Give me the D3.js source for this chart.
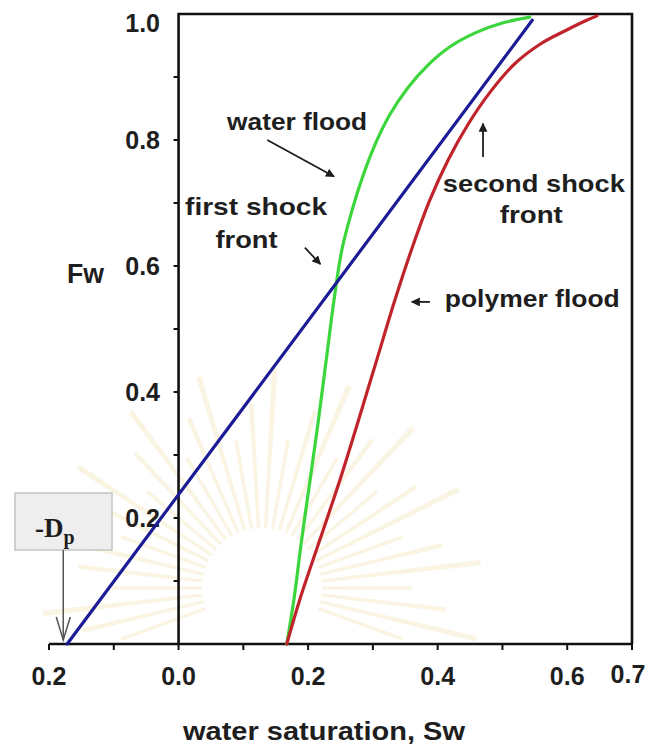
<!DOCTYPE html>
<html>
<head>
<meta charset="utf-8">
<script src="https://cdn.jsdelivr.net/npm/d3@7/dist/d3.min.js"></script>
<style>
  html, body { margin: 0; padding: 0; background: #ffffff; }
  svg { display: block; }
  text { font-family: "Liberation Sans", Arial, sans-serif; font-weight: bold; fill: #1e1e1e; }
</style>
</head>
<body>
<svg id="chart" width="654" height="745"></svg>
<script>
// Fractional flow curves (Sw, Fw)
const waterFloodSw = [0.167, 0.178, 0.190, 0.203, 0.216, 0.228, 0.240, 0.252, 0.268, 0.285, 0.303, 0.326, 0.354, 0.385, 0.419, 0.458, 0.501, 0.542];
const waterFloodFw = [0.000, 0.070, 0.165, 0.260, 0.356, 0.451, 0.546, 0.625, 0.689, 0.744, 0.792, 0.840, 0.883, 0.919, 0.948, 0.970, 0.986, 0.995];

const polymerFloodSw = [0.167, 0.187, 0.218, 0.249, 0.278, 0.306, 0.334, 0.362, 0.388, 0.416, 0.447, 0.481, 0.519, 0.558, 0.600, 0.630, 0.646];
const polymerFloodFw = [0.000, 0.070, 0.165, 0.260, 0.356, 0.451, 0.546, 0.633, 0.705, 0.768, 0.825, 0.876, 0.921, 0.952, 0.975, 0.990, 0.997];

// Tangent line drawn from -Dp on the Sw axis
const tangentSw = [-0.172, 0.546];
const tangentFw = [0.000, 0.990];
const dpSw = -0.178;

// Axis ticks and labels
const xTickValues = [-0.2, -0.1, 0.0, 0.1, 0.2, 0.3, 0.4, 0.5, 0.6, 0.7];
const xLabelValues = [-0.2, 0.0, 0.2, 0.4, 0.6, 0.7];
const xLabelTexts = ["0.2", "0.0", "0.2", "0.4", "0.6", "0.7"];
const yTickValues = [0.1, 0.2, 0.3, 0.4, 0.5, 0.6, 0.7, 0.8, 0.9];
const yLabelValues = [1.0, 0.8, 0.6, 0.4, 0.2];
const yLabelTexts = ["1.0", "0.8", "0.6", "0.4", "0.2"];

const svg = d3.select("#chart");

const x = d3.scaleLinear().domain([-0.2, 0.7]).range([49, 632]);
const y = d3.scaleLinear().domain([0, 1]).range([644, 14]);

// faint emblem rays in the background
const rayG = svg.append("g").attr("opacity", 0.3);
const cx = 262, cy = 588;
for (let i = 0; i < 34; i++) {
  const a = (-200 + i * (220 / 33)) * Math.PI / 180;
  const r0 = 60, r1 = 150 + (i % 3) * 35;
  const w = 0.05;
  const p = [
    [cx + r0 * Math.cos(a - w / 2), cy + r0 * Math.sin(a - w / 2)],
    [cx + r1 * Math.cos(a - w / 4), cy + r1 * Math.sin(a - w / 4)],
    [cx + r1 * Math.cos(a + w / 4), cy + r1 * Math.sin(a + w / 4)],
    [cx + r0 * Math.cos(a + w / 2), cy + r0 * Math.sin(a + w / 2)]
  ];
  rayG.append("path")
    .attr("d", "M" + p.map(q => q.join(",")).join("L") + "Z")
    .attr("fill", "#efdca6");
}

// arrowhead markers
const defs = svg.append("defs");
defs.append("marker").attr("id", "head").attr("viewBox", "0 0 10 10")
  .attr("refX", 9).attr("refY", 5).attr("markerWidth", 5).attr("markerHeight", 5)
  .attr("markerUnits", "strokeWidth").attr("orient", "auto")
  .append("path").attr("d", "M0,0 L10,5 L0,10 Z").attr("fill", "#1e1e1e");

// frame: left axis, top and right edges
const frame = svg.append("g").attr("stroke", "#111").attr("stroke-width", 2.6).attr("fill", "none");
frame.append("path").attr("d", `M${x(0)},${y(0)} V${y(1)} H${x(0.7)} V${y(0)}`);
// bottom axis reaches out to -0.2
frame.append("line").attr("x1", x(-0.2)).attr("x2", x(0.7)).attr("y1", y(0)).attr("y2", y(0));

// x ticks (outward)
svg.append("g").selectAll("line").data(xTickValues).join("line")
  .attr("x1", d => x(d)).attr("x2", d => x(d))
  .attr("y1", y(0)).attr("y2", y(0) + 6)
  .attr("stroke", "#111").attr("stroke-width", 2);

// y ticks (outward)
svg.append("g").selectAll("line").data(yTickValues).join("line")
  .attr("x1", x(0) - 5).attr("x2", x(0))
  .attr("y1", d => y(d)).attr("y2", d => y(d))
  .attr("stroke", "#111").attr("stroke-width", 2);

// x tick labels
svg.append("g").selectAll("text").data(xLabelValues).join("text")
  .attr("x", d => x(d) + (d === 0.7 ? -4 : 0))
  .attr("y", d => d === 0.7 ? 683 : 685)
  .attr("text-anchor", "middle")
  .attr("font-size", 25)
  .text((d, i) => xLabelTexts[i]);

// y tick labels
svg.append("g").selectAll("text").data(yLabelValues).join("text")
  .attr("x", 160)
  .attr("y", d => y(d) + (d === 1.0 ? 18 : 9))
  .attr("text-anchor", "end")
  .attr("font-size", 25)
  .text((d, i) => yLabelTexts[i]);

// axis titles
svg.append("text").attr("x", 67).attr("y", 283).attr("font-size", 27)
  .attr("textLength", 37).attr("lengthAdjust", "spacingAndGlyphs").text("Fw");
svg.append("text").attr("x", 183).attr("y", 740).attr("font-size", 26)
  .attr("textLength", 282).attr("lengthAdjust", "spacingAndGlyphs").text("water saturation, Sw");

// curves
const line = d3.line().x(d => x(d[0])).y(d => y(d[1])).curve(d3.curveCatmullRom.alpha(0.5));
const series = [
  { sw: waterFloodSw, fw: waterFloodFw, color: "#3bd63b" },
  { sw: polymerFloodSw, fw: polymerFloodFw, color: "#c0242a" },
  { sw: tangentSw, fw: tangentFw, color: "#1c1c96" }
];
series.forEach(s => {
  svg.append("path")
    .datum(s.sw.map((v, i) => [v, s.fw[i]]))
    .attr("d", line)
    .attr("fill", "none")
    .attr("stroke", s.color)
    .attr("stroke-width", 3.2)
    .attr("stroke-linecap", "round");
});

// annotations: text lines and pointer arrows, in data units
const notes = [
  { text: "water flood", sw: 0.075, fw: 0.816, width: 140 },
  { text: "first shock", sw: 0.010, fw: 0.681, width: 142 },
  { text: "front", sw: 0.057, fw: 0.629, width: 62 },
  { text: "second shock", sw: 0.408, fw: 0.717, width: 182 },
  { text: "front", sw: 0.496, fw: 0.668, width: 63 },
  { text: "polymer flood", sw: 0.411, fw: 0.535, width: 175 }
];
svg.append("g").selectAll("text").data(notes).join("text")
  .attr("x", d => x(d.sw)).attr("y", d => y(d.fw))
  .attr("font-size", 24)
  .attr("textLength", d => d.width).attr("lengthAdjust", "spacingAndGlyphs")
  .text(d => d.text);

const pointers = [
  { from: [0.137, 0.800], to: [0.240, 0.742] },
  { from: [0.195, 0.629], to: [0.219, 0.603] },
  { from: [0.470, 0.773], to: [0.470, 0.826] },
  { from: [0.388, 0.543], to: [0.360, 0.543] }
];
svg.append("g").selectAll("line").data(pointers).join("line")
  .attr("x1", d => x(d.from[0])).attr("y1", d => y(d.from[1]))
  .attr("x2", d => x(d.to[0])).attr("y2", d => y(d.to[1]))
  .attr("stroke", "#1e1e1e").attr("stroke-width", 1.8)
  .attr("marker-end", "url(#head)");

// -Dp callout box with an open arrow down to the Sw axis
const box = svg.append("g");
box.append("rect").attr("x", 15).attr("y", 493).attr("width", 97).attr("height", 57)
  .attr("fill", "#eeeeee").attr("stroke", "#c4c4c4").attr("stroke-width", 1.5);
const dpText = box.append("text").attr("x", 35).attr("y", 537)
  .style("font-family", "'Liberation Serif', 'Times New Roman', serif")
  .style("font-weight", "bold").attr("font-size", 27).attr("fill", "#2a2a2a");
dpText.append("tspan").text("-D");
dpText.append("tspan").attr("dy", 7).attr("font-size", 20).text("p");
const ax = x(dpSw);
box.append("line").attr("x1", ax).attr("x2", ax).attr("y1", 550).attr("y2", y(0) - 4)
  .attr("stroke", "#555").attr("stroke-width", 1.5);
box.append("path").attr("d", `M${ax - 7},${y(0) - 27} L${ax},${y(0) - 4} L${ax + 7},${y(0) - 27}`)
  .attr("fill", "none").attr("stroke", "#555").attr("stroke-width", 1.5);
</script>
</body>
</html>
